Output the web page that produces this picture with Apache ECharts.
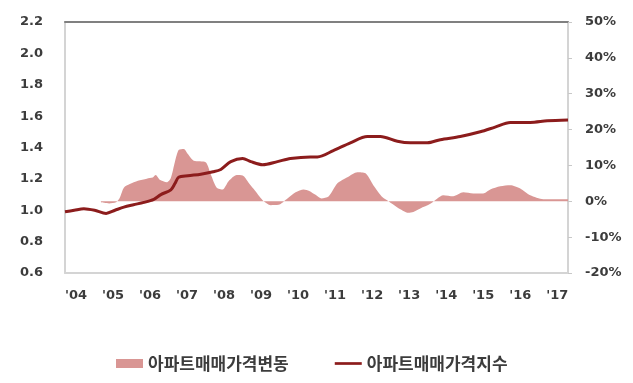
<!DOCTYPE html>
<html>
<head>
<meta charset="utf-8">
<script src="https://cdn.jsdelivr.net/npm/echarts@6/dist/echarts.min.js"></script>
<style>html,body{margin:0;padding:0;background:#fff}#c{width:633px;height:383px}</style>
</head>
<body>
<div id="c"></div>
<script>
// Tick labels
const xTickLabels = ["'04","'05","'06","'07","'08","'09","'10","'11","'12","'13","'14","'15","'16","'17"];
const firstYear = 2004;
const lastX = 2017.59;

// 아파트매매가격지수 (left axis) : decimal year / index
const indexX = [2004.00,2004.25,2004.51,2004.80,2005.11,2005.35,2005.59,2005.85,2006.13,2006.40,2006.59,2006.86,2006.97,2007.07,2007.32,2007.67,2008.00,2008.21,2008.48,2008.80,2009.02,2009.34,2009.74,2010.09,2010.63,2010.82,2011.25,2011.71,2012.17,2012.52,2012.98,2013.33,2013.79,2014.14,2014.68,2015.22,2015.62,2016.03,2016.57,2017.03,2017.59];
const indexY = [0.99,1.00,1.01,1.00,0.98,1.00,1.02,1.035,1.05,1.07,1.10,1.13,1.17,1.21,1.22,1.23,1.245,1.26,1.31,1.33,1.31,1.29,1.31,1.33,1.34,1.34,1.38,1.43,1.47,1.47,1.44,1.43,1.43,1.45,1.47,1.50,1.53,1.56,1.56,1.57,1.575];

// 아파트매매가격변동 (right axis, %) : decimal year / change
const changeX = [2004.97,2005.19,2005.38,2005.48,2005.59,2005.75,2005.97,2006.21,2006.37,2006.45,2006.56,2006.75,2006.86,2006.97,2007.07,2007.21,2007.32,2007.48,2007.80,2007.94,2008.10,2008.26,2008.42,2008.64,2008.80,2008.96,2009.10,2009.34,2009.56,2009.77,2010.01,2010.23,2010.45,2010.60,2010.77,2010.93,2011.12,2011.36,2011.63,2011.90,2012.12,2012.33,2012.58,2012.74,2012.98,2013.28,2013.41,2013.60,2013.87,2014.06,2014.22,2014.49,2014.76,2015.03,2015.30,2015.49,2015.76,2016.03,2016.30,2016.57,2016.92,2017.30,2017.59];
const changeY = [-0.3,-0.6,-0.3,1.0,3.8,4.8,5.7,6.3,6.6,7.3,6.0,5.3,6.5,11.0,14.3,14.6,13.2,11.3,10.9,7.5,3.8,3.3,5.6,7.3,7.2,5.2,3.4,0.3,-1.1,-1.0,0.8,2.5,3.3,2.9,1.8,0.8,1.3,5.0,6.7,8.1,7.8,4.5,1.1,0.0,-1.7,-3.2,-3.0,-2.0,-0.7,0.8,1.7,1.4,2.5,2.2,2.2,3.3,4.2,4.5,3.6,1.7,0.6,0.6,0.6];

const nameArea = '아파트매매가격변동';
const nameLine = '아파트매매가격지수';

const indexData = indexX.map((x, i) => [x, indexY[i]]);
const changeData = changeX.map((x, i) => [x, changeY[i]]);

const textColor = '#3c3c3c';
const font = 'DejaVu Sans';
const areaColor = '#d99694';
const lineColor = '#8c1c1c';

const chart = echarts.init(document.getElementById('c'), null, {renderer: 'canvas'});
chart.setOption({
  animation: false,
  backgroundColor: '#fff',
  grid: {left: 65, right: 65, top: 22, bottom: 110, containLabel: false},
  legend: {
    bottom: 6,
    left: 111,
    itemGap: 46,
    itemWidth: 27,
    itemHeight: 9,
    textStyle: {fontFamily: 'Noto Sans CJK KR', fontSize: 17, fontWeight: 'bold', color: textColor},
    data: [
      {name: nameArea, icon: 'rect', itemStyle: {color: areaColor}},
      {name: nameLine, icon: 'path://M0,0 L30,0 L30,3 L0,3 Z', itemStyle: {color: lineColor}}
    ]
  },
  xAxis: [
    {
      type: 'value', min: firstYear, max: lastX, interval: 1, position: 'bottom',
      axisLine: {show: true, onZero: false, lineStyle: {color: '#d4d4d4', width: 2}},
      axisTick: {show: false},
      splitLine: {show: false},
      axisLabel: {
        margin: 16, align: 'left', color: textColor, fontFamily: font, fontSize: 13, fontWeight: 'bold',
        formatter: v => {
          const k = Math.round(v - firstYear);
          return Math.abs(v - firstYear - k) < 1e-6 && k < xTickLabels.length ? xTickLabels[k] : '';
        }
      }
    },
    {
      type: 'value', min: firstYear, max: lastX, position: 'top',
      axisLine: {show: true, onZero: false, lineStyle: {color: '#808080', width: 2}},
      axisTick: {show: false}, axisLabel: {show: false}, splitLine: {show: false}
    }
  ],
  yAxis: [
    {
      type: 'value', min: 0.6, max: 2.2, interval: 0.2, position: 'left',
      axisLine: {show: true, onZero: false, lineStyle: {color: '#d4d4d4', width: 2}},
      axisTick: {show: false},
      splitLine: {show: false},
      axisLabel: {margin: 22, color: textColor, fontFamily: font, fontSize: 13, fontWeight: 'bold',
        formatter: v => v.toFixed(1)}
    },
    {
      type: 'value', min: -20, max: 50, interval: 10, position: 'right',
      axisLine: {show: true, onZero: false, lineStyle: {color: '#d4d4d4', width: 2}},
      axisTick: {show: true, inside: false, length: 4, lineStyle: {color: '#c8c8c8', width: 1}},
      splitLine: {show: false},
      axisLabel: {margin: 17, align: 'left', color: textColor, fontFamily: font, fontSize: 13, fontWeight: 'bold',
        formatter: v => v + '%'}
    }
  ],
  series: [
    {
      name: nameArea, type: 'line', xAxisIndex: 0, yAxisIndex: 1,
      data: changeData, smooth: 0.25, symbol: 'none',
      lineStyle: {width: 0, color: areaColor},
      itemStyle: {color: areaColor},
      areaStyle: {color: areaColor, opacity: 1, origin: 0},
      z: 1
    },
    {
      name: nameLine, type: 'line', xAxisIndex: 0, yAxisIndex: 0,
      data: indexData, smooth: 0.3, symbol: 'none',
      lineStyle: {width: 3, color: lineColor},
      itemStyle: {color: lineColor},
      z: 3
    }
  ]
});
</script>
</body>
</html>
